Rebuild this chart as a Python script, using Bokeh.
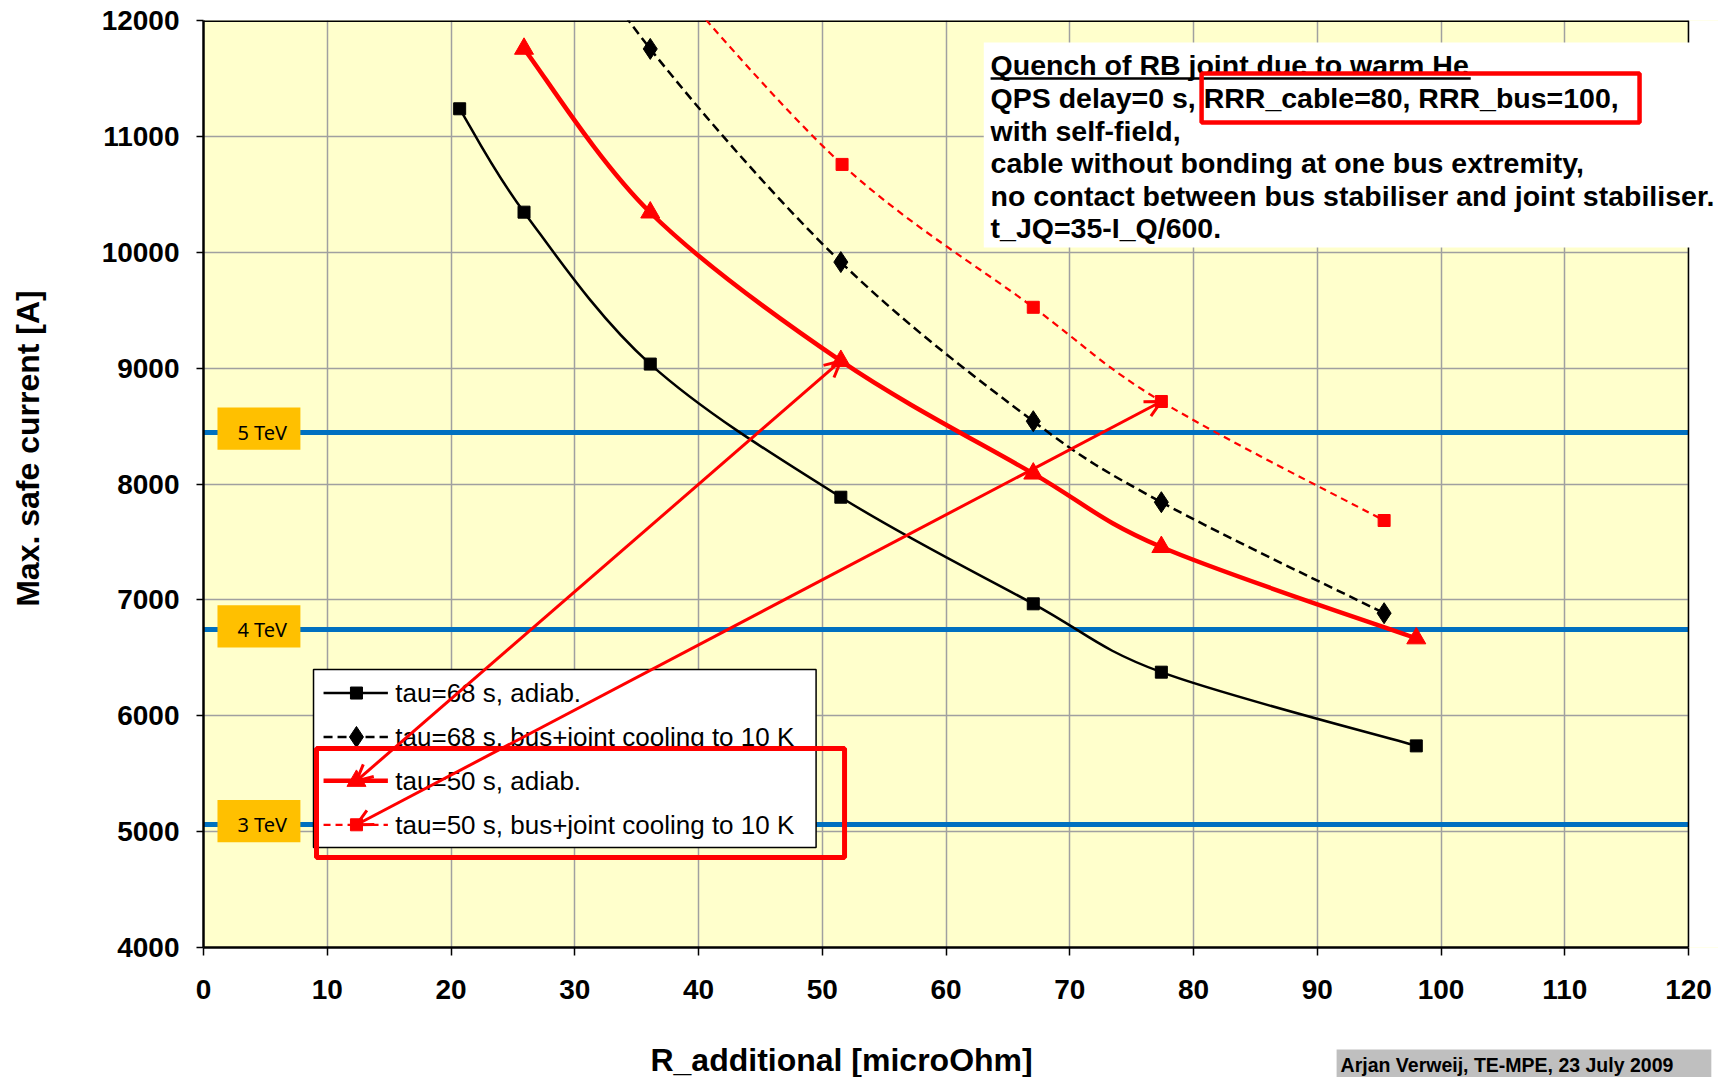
from bokeh.plotting import figure
from bokeh.models import (Range1d, FixedTicker, Label, Arrow, OpenHead, BoxAnnotation,
                          ColumnDataSource)
from bokeh.core.properties import value
from bokeh.embed import file_html
from bokeh.resources import INLINE

# ---------------- data ----------------
x_tau68_adiab = [20.7, 25.9, 36.1, 51.5, 67.05, 77.4, 98.0]
y_tau68_adiab = [11238, 10346, 9035, 7886, 6966, 6376, 5740]

x_tau68_cool = [25.9, 36.1, 51.5, 67.05, 77.4, 95.4]
y_tau68_cool = [13350, 11755, 9915, 8542, 7843, 6885]

x_tau50_adiab = [25.9, 36.1, 51.5, 67.05, 77.4, 98.0]
y_tau50_adiab = [11756, 10343, 9062, 8090, 7456, 6668]

x_tau50_cool = [36.1, 51.6, 67.05, 77.4, 95.4]
y_tau50_cool = [12550, 10758, 9525, 8712, 7685]

series_labels = ["tau=68 s, adiab.",
                 "tau=68 s, bus+joint cooling to 10 K",
                 "tau=50 s, adiab.",
                 "tau=50 s, bus+joint cooling to 10 K"]

energy_labels = ["5 TeV", "4 TeV", "3 TeV"]
energy_currents = [8447, 6742, 5061]

x_ticks = [0, 10, 20, 30, 40, 50, 60, 70, 80, 90, 100, 110, 120]
y_ticks = [4000, 5000, 6000, 7000, 8000, 9000, 10000, 11000, 12000]

note_lines = ["Quench of RB joint due to  warm He",
              "QPS delay=0 s, RRR_cable=80, RRR_bus=100,",
              "with self-field,",
              "cable without bonding at one bus extremity,",
              "no contact between bus stabiliser and joint stabiliser.",
              "t_JQ=35-I_Q/600."]

x_title = "R_additional [microOhm]"
y_title = "Max. safe current [A]"
credit = "Arjan Verweij, TE-MPE, 23 July 2009"

FONT = "Liberation Sans"
X_MAX = 120
X_VIEW = 122.42          # frame runs a little past the last tick (note box overflows there)

# ---------------- figure ----------------
p = figure(width=1718, height=1077, x_range=Range1d(0, X_VIEW), y_range=Range1d(4000, 12000),
           output_backend="svg", toolbar_location=None,
           min_border_left=203, min_border_right=0, min_border_top=20, min_border_bottom=130)
p.background_fill_color = "#FFFFCC"
p.border_fill_color = "white"
p.outline_line_color = None

p.xaxis.ticker = FixedTicker(ticks=x_ticks)
p.yaxis.ticker = FixedTicker(ticks=y_ticks)
p.xaxis.bounds = (0, X_MAX)
for g in (p.xgrid[0], p.ygrid[0]):
    g.grid_line_color = "#A0A0A0"
    g.grid_line_width = 1.5

for ax in (p.xaxis[0], p.yaxis[0]):
    ax.major_label_text_font = FONT
    ax.major_label_text_font_style = "bold"
    ax.major_label_text_font_size = "28px"
    ax.major_label_text_color = "black"
    ax.axis_line_color = "black"
    ax.axis_line_width = 2.5
    ax.major_tick_line_color = "black"
    ax.major_tick_line_width = 1.5
    ax.major_tick_in = 0
    ax.minor_tick_line_color = None
p.xaxis.major_tick_out = 8
p.xaxis.major_label_standoff = 24
p.yaxis.major_tick_out = 7
p.yaxis.major_label_standoff = 17

# ---------------- energy levels ----------------
p.hspan(y=energy_currents, line_color="#0070C0", line_width=5)
# white strip right of the chart area and the chart's top / right border
p.quad(left=X_MAX, right=X_VIEW + 1, bottom=4000, top=12000, fill_color="white", line_color=None)
p.vspan(x=[X_MAX], line_color="black", line_width=1.5)
p.segment(x0=0, x1=X_MAX, y0=12000, y1=12000, line_color="black", line_width=3)

p.rect(x=4.48, y=[c + 30 for c in energy_currents], width=6.7, height=365,
       fill_color="#FFC000", line_color=None)
p.text(x=4.75, y=energy_currents, text=energy_labels, text_font=value("Noto Sans"),
       text_font_size="20px", text_align="center", text_baseline="middle", text_color="black")


# ---------------- smoothed series ----------------
def bezier_source(xs, ys):
    n = len(xs)
    d = dict(x0=[], y0=[], x1=[], y1=[], cx0=[], cy0=[], cx1=[], cy1=[])
    for i in range(n - 1):
        a = max(i - 1, 0)
        b = min(i + 2, n - 1)
        d["x0"].append(xs[i]); d["y0"].append(ys[i])
        d["x1"].append(xs[i + 1]); d["y1"].append(ys[i + 1])
        d["cx0"].append(xs[i] + (xs[i + 1] - xs[a]) / 6)
        d["cy0"].append(ys[i] + (ys[i + 1] - ys[a]) / 6)
        d["cx1"].append(xs[i + 1] - (xs[b] - xs[i]) / 6)
        d["cy1"].append(ys[i + 1] - (ys[b] - ys[i]) / 6)
    return ColumnDataSource(d)


styles = [
    dict(color="black", width=2.5, dash="solid", marker="square", size=12),
    dict(color="black", width=2.5, dash="9 5", marker="diamond", size=21),
    dict(color="#FF0000", width=4.5, dash="solid", marker="triangle", size=19),
    dict(color="#FF0000", width=2.2, dash="7 5", marker="square", size=12),
]
series = [(x_tau68_adiab, y_tau68_adiab), (x_tau68_cool, y_tau68_cool),
          (x_tau50_adiab, y_tau50_adiab), (x_tau50_cool, y_tau50_cool)]

for (xs, ys), st in zip(series, styles):
    p.bezier(x0="x0", y0="y0", x1="x1", y1="y1", cx0="cx0", cy0="cy0", cx1="cx1", cy1="cy1",
             source=bezier_source(xs, ys), line_color=st["color"], line_width=st["width"],
             line_dash=st["dash"])
for (xs, ys), st in zip(series, styles):
    p.scatter(xs, ys, marker=st["marker"], size=st["size"], fill_color=st["color"],
              line_color=st["color"])

# ---------------- legend (drawn in the plot) ----------------
leg_rows_y = [6196, 5817, 5438, 5059]
p.quad(left=8.89, right=49.5, bottom=4863, top=6399, fill_color="white",
       line_color="black", line_width=1.5)
for ry, lab, st in zip(leg_rows_y, series_labels, styles):
    p.segment(x0=9.7, x1=14.9, y0=ry, y1=ry, line_color=st["color"],
              line_width=st["width"], line_dash=st["dash"])
    p.scatter([12.36], [ry], marker=st["marker"], size=st["size"],
              fill_color=st["color"], line_color=st["color"])
    p.text(x=[15.5], y=[ry], text=[lab], text_font=value(FONT), text_font_size="26px",
           text_baseline="middle", text_color="black")

p.quad(left=9.13, right=51.8, bottom=4777, top=5717, fill_color=None,
       line_color="#FF0000", line_width=5)

# ---------------- arrows from legend to points ----------------
for ry, xs, ys, idx in [(leg_rows_y[2], x_tau50_adiab, y_tau50_adiab, 2),
                        (leg_rows_y[3], x_tau50_cool, y_tau50_cool, 3)]:
    p.add_layout(Arrow(start=OpenHead(size=16, line_color="#FF0000", line_width=3),
                       end=OpenHead(size=16, line_color="#FF0000", line_width=3),
                       x_start=12.36, y_start=ry, x_end=xs[idx], y_end=ys[idx],
                       line_color="#FF0000", line_width=3))

# ---------------- note box ----------------
p.add_layout(BoxAnnotation(left=63.05, right=X_VIEW + 5, top=11810, bottom=10041,
                           fill_color="white", fill_alpha=1.0, line_color=None))
for i, line in enumerate(note_lines):
    p.add_layout(Label(x=63.6, y=11612 - i * 281, text=line, text_font=FONT,
                       text_font_style="bold", text_font_size="28.5px",
                       text_baseline="middle", text_color="black"))
p.segment(x0=63.6, x1=102.4, y0=11500, y1=11500, line_color="black", line_width=2.5,
          level="overlay")
p.quad(left=80.65, right=116.04, bottom=11120, top=11543, fill_color=None,
       line_color="#FF0000", line_width=4.5, level="overlay")

# ---------------- axis titles & credit (outside the chart area) ----------------
p.add_layout(Label(x=-14.18, y=8306, text=y_title, angle=90, angle_units="deg",
                   text_font=FONT, text_font_style="bold", text_font_size="32px",
                   text_align="center", text_baseline="middle", text_color="black"), "left")
p.add_layout(Label(x=51.56, y=3033, text=x_title,
                   text_font=FONT, text_font_style="bold", text_font_size="32px",
                   text_align="center", text_baseline="middle", text_color="black"), "below")
try:
    credit_label = Label(x=91.56, y=2977, text=credit,
                         text_font=FONT, text_font_style="bold", text_font_size="19.5px",
                         text_align="left", text_baseline="middle", text_color="black",
                         background_fill_color="#BFBFBF", padding=(4, 38, 4, 7))
except Exception:
    credit_label = Label(x=91.56, y=2977, text=credit,
                         text_font=FONT, text_font_style="bold", text_font_size="19.5px",
                         text_align="left", text_baseline="middle", text_color="black",
                         background_fill_color="#BFBFBF", padding=5)
p.add_layout(credit_label, "below")

open("out.html", "w").write(file_html(p, INLINE))
